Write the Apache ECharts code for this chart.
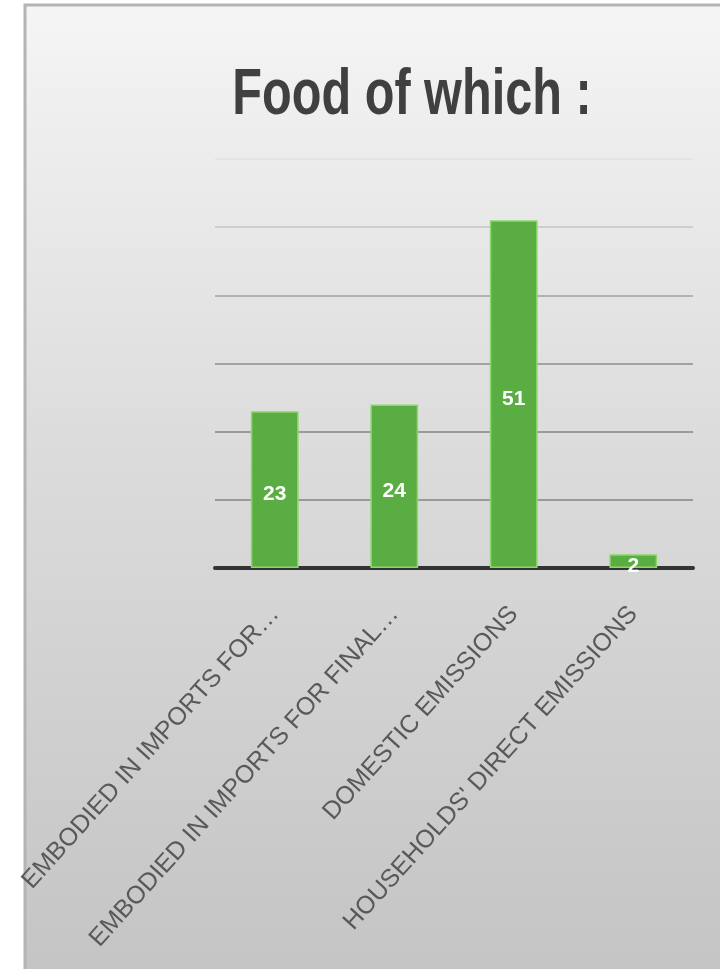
<!DOCTYPE html>
<html>
<head>
<meta charset="utf-8">
<script src="https://cdn.jsdelivr.net/npm/echarts@6/dist/echarts.min.js"></script>
<style>
  html, body { margin: 0; padding: 0; background: #fff; }
  #chart { width: 720px; height: 969px; }
</style>
</head>
<body>
<div id="chart"></div>
<script>
// data
const categories = [
  'EMBODIED IN IMPORTS FOR…',
  'EMBODIED IN IMPORTS FOR FINAL…',
  'DOMESTIC EMISSIONS',
  "HOUSEHOLDS' DIRECT EMISSIONS"
]
const values = [23, 24, 51, 2]
const titleText = 'Food of which :'

// gridlines fade out toward the top (0, 10, ... 60)
const gridColors = ['#999999', '#999999', '#9b9b9b', '#a2a2a2', '#b2b2b2', '#cecece', '#e4e4e4']

const chart = echarts.init(document.getElementById('chart'))

chart.setOption({
  animation: false,
  graphic: [{
    type: 'rect',
    z: -10,
    silent: true,
    shape: { x: 25, y: 5, width: 700, height: 970 },
    style: {
      fill: new echarts.graphic.LinearGradient(0, 0, 0, 1, [
        { offset: 0, color: '#f5f5f5' },
        { offset: 0.45, color: '#dcdcdc' },
        { offset: 1, color: '#c4c4c4' }
      ]),
      stroke: '#b4b4b4',
      lineWidth: 3
    }
  }, {
    // condensed bold title
    type: 'text',
    x: 412,
    y: 64,
    scaleX: 0.76,
    silent: true,
    style: {
      text: titleText,
      align: 'center',
      verticalAlign: 'top',
      font: 'bold 64px "Liberation Sans", Arial, sans-serif',
      fill: '#404040'
    }
  }],
  grid: { left: 215, right: 27, top: 159, bottom: 401 },
  xAxis: {
    type: 'category',
    data: categories,
    axisLine: { lineStyle: { color: '#333333', width: 4 } },
    axisTick: { show: false },
    axisLabel: {
      rotate: 48,
      interval: 0,
      margin: 42,
      fontFamily: 'Liberation Sans',
      fontSize: 25,
      color: '#595959'
    }
  },
  yAxis: {
    type: 'value',
    min: 0,
    max: 60,
    interval: 10,
    axisLine: { show: false },
    axisTick: { show: false },
    axisLabel: { show: false },
    splitLine: { lineStyle: { color: gridColors, width: 2 } }
  },
  series: [{
    type: 'bar',
    data: values,
    barWidth: '40%',
    itemStyle: {
      color: '#5aad43',
      borderColor: '#8ad86a',
      borderWidth: 1.5
    },
    label: {
      show: true,
      position: 'inside',
      offset: [0, 5],
      color: '#ffffff',
      fontFamily: 'Liberation Sans',
      fontWeight: 'bold',
      fontSize: 21
    }
  }]
})
</script>
</body>
</html>
